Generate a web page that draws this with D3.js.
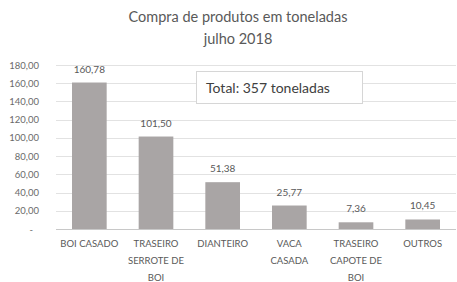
<!DOCTYPE html>
<html>
<head>
<meta charset="utf-8">
<script src="https://cdn.jsdelivr.net/npm/d3@7"></script>
<style>
  body { margin: 0; background: #fff; }
  svg { display: block; font-family: Lato, "Open Sans", sans-serif; }
</style>
</head>
<body>
<div id="chart"></div>
<script>
var categories = ['BOI CASADO', 'TRASEIRO|SERROTE DE|BOI', 'DIANTEIRO', 'VACA|CASADA', 'TRASEIRO|CAPOTE DE|BOI', 'OUTROS'];
var values = [160.78, 101.50, 51.38, 25.77, 7.36, 10.45];
var yTicks = [0, 20, 40, 60, 80, 100, 120, 140, 160, 180];
var titleLines = ['Compra de produtos em toneladas', 'julho 2018'];
var totalText = 'Total: 357 toneladas';

var width = 457, height = 282;
var margin = { top: 65, right: 1, bottom: 53, left: 56 };
var innerW = width - margin.left - margin.right;
var innerH = height - margin.top - margin.bottom;

var fmt = function (v) { return v.toFixed(2).replace('.', ','); };

var svg = d3.select('#chart').append('svg')
    .attr('width', width)
    .attr('height', height);

svg.append('g').selectAll('text')
    .data(titleLines)
  .enter().append('text')
    .attr('x', 238)
    .attr('y', function (d, i) { return 22 + i * 22; })
    .attr('text-anchor', 'middle')
    .style('font-size', '14.5px')
    .style('fill', '#595959')
    .text(function (d) { return d; });

var x = d3.scaleBand()
    .domain(d3.range(categories.length))
    .range([0, innerW])
    .paddingInner(0.48)
    .paddingOuter(0.24);

var y = d3.scaleLinear()
    .domain([0, 180])
    .range([innerH, 0]);

var chartArea = svg.append('g')
    .attr('transform', 'translate(' + margin.left + ',' + margin.top + ')');

// gridlines
chartArea.append('g').selectAll('line')
    .data(yTicks)
  .enter().append('line')
    .attr('x1', 0)
    .attr('x2', innerW)
    .attr('y1', function (d) { return Math.round(y(d)) + 0.5; })
    .attr('y2', function (d) { return Math.round(y(d)) + 0.5; })
    .style('stroke', function (d) { return d === 0 ? '#c8c8c8' : '#e2e2e2'; });

// y axis labels
var yAxis = chartArea.append('g')
    .attr('transform', 'translate(-14,0)')
    .call(d3.axisLeft(y).tickValues(yTicks).tickSize(0)
      .tickFormat(function (d) { return d === 0 ? '-' : fmt(d); }));
yAxis.select('path').remove();
yAxis.selectAll('text')
    .style('font-family', 'Lato, sans-serif')
    .style('font-size', '9.5px')
    .style('fill', '#6a6a6a');
yAxis.selectAll('text').filter(function (d) { return d === 0; })
    .attr('dx', '-6');

// bars
var bar = chartArea.append('g').selectAll('g')
    .data(values)
  .enter().append('g')
    .attr('transform', function (d, i) { return 'translate(' + x(i) + ',0)'; });

bar.append('rect')
    .attr('y', function (d) { return y(d); })
    .attr('height', function (d) { return innerH - y(d); })
    .attr('width', x.bandwidth())
    .style('fill', '#a9a5a5');

bar.append('text')
    .attr('x', x.bandwidth() / 2)
    .attr('y', function (d) { return y(d) - 10; })
    .attr('text-anchor', 'middle')
    .style('font-size', '10px')
    .style('fill', '#595959')
    .text(function (d) { return fmt(d); });

// category labels
var cat = chartArea.append('g').selectAll('text')
    .data(categories)
  .enter().append('text')
    .attr('x', function (d, i) { return x(i) + x.bandwidth() / 2; })
    .attr('y', innerH + 18)
    .attr('text-anchor', 'middle')
    .style('font-size', '9.5px')
    .style('fill', '#595959');

cat.selectAll('tspan')
    .data(function (d) { return d.split('|'); })
  .enter().append('tspan')
    .attr('x', function () { return d3.select(this.parentNode).attr('x'); })
    .attr('dy', function (d, i) { return i === 0 ? 0 : 17; })
    .text(function (d) { return d; });

// total box
var box = svg.append('g');
box.append('rect')
    .attr('x', 196.5)
    .attr('y', 71.5)
    .attr('width', 166)
    .attr('height', 32)
    .style('fill', '#fff')
    .style('stroke', '#d6d6d6');
box.append('text')
    .attr('x', 206)
    .attr('y', 93)
    .style('font-size', '14px')
    .style('fill', '#404040')
    .text(totalText);
</script>
</body>
</html>
